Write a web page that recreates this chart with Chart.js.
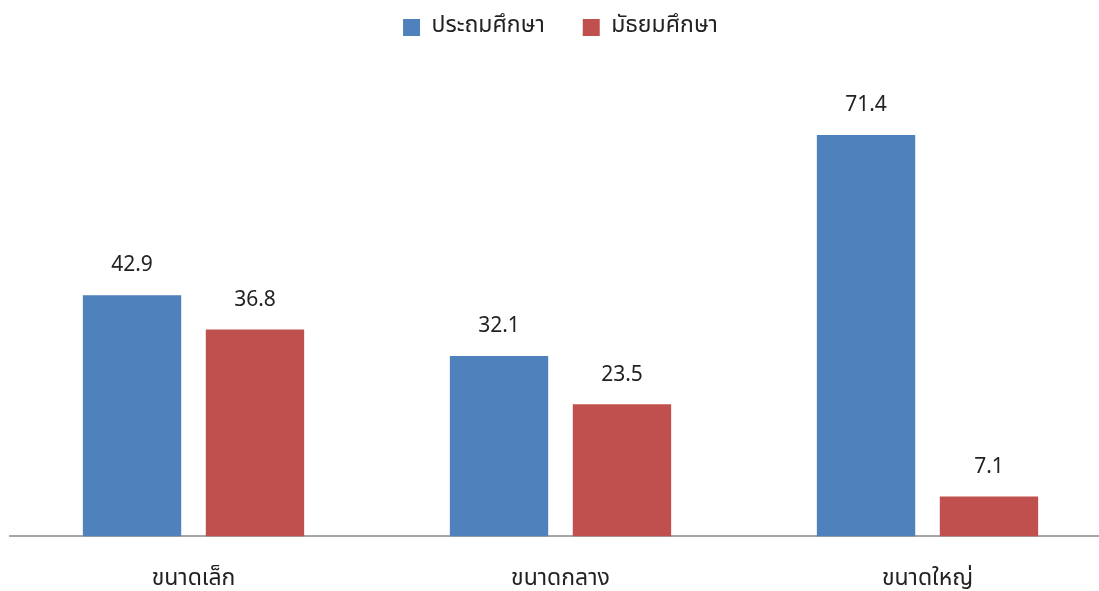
<!DOCTYPE html>
<html>
<head>
<meta charset="utf-8">
<script src="https://cdn.jsdelivr.net/npm/chart.js@4"></script>
<style>
  html, body { margin: 0; padding: 0; background: #fff; overflow: hidden; }
  #box { width: 1111px; height: 591px; }
</style>
</head>
<body>
<div id="box"><canvas id="myChart"></canvas></div>
<script>
let categories = ['ขนาดเล็ก', 'ขนาดกลาง', 'ขนาดใหญ่'];
let primaryValues = [42.9, 32.1, 71.4];
let secondaryValues = [36.8, 23.5, 7.1];
let seriesNames = ['ประถมศึกษา', 'มัธยมศึกษา'];

let thaiFont = "'Noto Sans Thai', 'Noto Sans', Tahoma, sans-serif";

// draws the value above each bar
let valueLabels = {
    id: 'valueLabels',
    afterDatasetsDraw(chart) {
        let ctx = chart.ctx;
        ctx.save();
        ctx.font = '21px ' + thaiFont;
        ctx.fillStyle = '#222';
        ctx.textAlign = 'center';
        ctx.textBaseline = 'middle';
        chart.data.datasets.forEach((ds, i) => {
            chart.getDatasetMeta(i).data.forEach((bar, j) => {
                ctx.fillText(ds.data[j].toFixed(1), bar.x, bar.y - 28);
            });
        });
        ctx.restore();
    }
};

let myChart = document.getElementById('myChart').getContext('2d');

let newChart = new Chart(myChart, {
    type: 'bar',
    data: {
        labels: categories,
        datasets: [{
            label: seriesNames[0],
            data: primaryValues,
            backgroundColor: '#4F81BD'
        }, {
            label: seriesNames[1],
            data: secondaryValues,
            backgroundColor: '#C0504D'
        }]
    },
    options: {
        responsive: true,
        maintainAspectRatio: false,
        animation: false,
        categoryPercentage: 0.67,
        barPercentage: 0.8,
        layout: {
            padding: { left: 10, right: 0, top: -22, bottom: -25 }
        },
        scales: {
            x: {
                grid: { display: false },
                border: { color: '#a6a6a6', width: 2 },
                ticks: {
                    color: '#222',
                    padding: 22,
                    font: { size: 23, family: thaiFont }
                }
            },
            y: {
                display: false,
                min: 0,
                max: 86.7
            }
        },
        plugins: {
            legend: {
                position: 'top',
                labels: {
                    color: '#222',
                    boxWidth: 17,
                    boxHeight: 17,
                    padding: 38,
                    font: { size: 23, family: thaiFont }
                }
            },
            tooltip: { enabled: false }
        }
    },
    plugins: [valueLabels]
});
</script>
</body>
</html>
